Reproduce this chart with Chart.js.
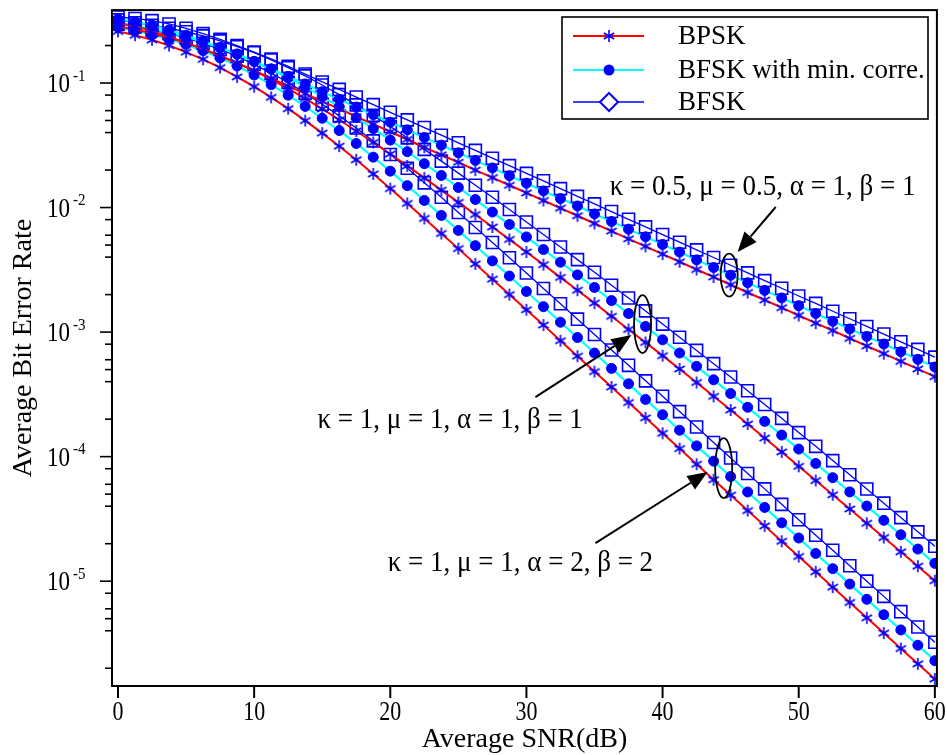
<!DOCTYPE html>
<html>
<head>
<meta charset="utf-8">
<script src="https://cdn.jsdelivr.net/npm/chart.js@4.4.0/dist/chart.umd.min.js"></script>
<style>
  html, body { margin: 0; padding: 0; background: #fff; }
  #wrap { width: 947px; height: 755px; position: relative; }
</style>
</head>
<body>
<div id="wrap"><canvas id="berChart"></canvas></div>
<script>
// average SNR in dB, one marker every 1.25 dB
const snr = [0, 1.25, 2.5, 3.75, 5, 6.25, 7.5, 8.75, 10, 11.25, 12.5, 13.75, 15, 16.25, 17.5, 18.75,
  20, 21.25, 22.5, 23.75, 25, 26.25, 27.5, 28.75, 30, 31.25, 32.5, 33.75, 35, 36.25, 37.5, 38.75,
  40, 41.25, 42.5, 43.75, 45, 46.25, 47.5, 48.75, 50, 51.25, 52.5, 53.75, 55, 56.25, 57.5, 58.75, 60];

// kappa = 0.5, mu = 0.5, alpha = 1, beta = 1
const bpsk1 = [0.306, 0.285, 0.261, 0.235, 0.210, 0.187, 0.165, 0.144, 0.126, 0.109, 0.0946, 0.0822, 0.0713,
  0.0619, 0.0537, 0.0467, 0.0406, 0.0352, 0.0305, 0.0265, 0.0231, 0.0200, 0.0174, 0.0151, 0.0131, 0.0114,
  0.00989, 0.00859, 0.00745, 0.00647, 0.00561, 0.00488, 0.00423, 0.00367, 0.00318, 0.00277, 0.00240, 0.00208,
  0.00181, 0.00157, 0.00136, 0.00118, 0.00103, 0.000891, 0.000773, 0.000671, 0.000582, 0.000506, 0.000439];
const fskMin1 = [0.327, 0.311, 0.291, 0.267, 0.242, 0.216, 0.193, 0.171, 0.149, 0.130, 0.113, 0.0982, 0.0851,
  0.0740, 0.0641, 0.0557, 0.0484, 0.0421, 0.0365, 0.0317, 0.0275, 0.0239, 0.0208, 0.0180, 0.0157, 0.0136,
  0.0118, 0.0103, 0.00889, 0.00773, 0.00670, 0.00582, 0.00505, 0.00439, 0.00380, 0.00330, 0.00286, 0.00249,
  0.00216, 0.00188, 0.00163, 0.00141, 0.00122, 0.00106, 0.000923, 0.000802, 0.000695, 0.000604, 0.000524];
const fsk1 = [0.339, 0.330, 0.317, 0.298, 0.275, 0.249, 0.224, 0.200, 0.177, 0.156, 0.136, 0.118, 0.102,
  0.0889, 0.0771, 0.0670, 0.0582, 0.0506, 0.0439, 0.0381, 0.0331, 0.0288, 0.0249, 0.0217, 0.0188, 0.0164,
  0.0142, 0.0123, 0.0107, 0.00929, 0.00805, 0.00700, 0.00607, 0.00527, 0.00457, 0.00397, 0.00344, 0.00299,
  0.00259, 0.00225, 0.00195, 0.00170, 0.00147, 0.00128, 0.00111, 0.000964, 0.000836, 0.000726, 0.000630];

// kappa = 1, mu = 1, alpha = 1, beta = 1
const bpsk2 = [0.285, 0.269, 0.251, 0.231, 0.210, 0.188, 0.166, 0.145, 0.125, 0.107, 0.0900, 0.0750, 0.0619,
  0.0507, 0.0412, 0.0333, 0.0269, 0.0216, 0.0173, 0.0138, 0.0110, 0.00879, 0.00698, 0.00555, 0.00440, 0.00348,
  0.00275, 0.00217, 0.00171, 0.00134, 0.00105, 0.000826, 0.000647, 0.000506, 0.000394, 0.000305, 0.000237,
  0.000183, 0.000141, 0.000109, 8.36e-5, 6.43e-5, 4.94e-5, 3.80e-5, 2.92e-5, 2.24e-5, 1.72e-5, 1.32e-5, 1.01e-5];
const fskMin2 = [0.303, 0.288, 0.272, 0.255, 0.235, 0.214, 0.192, 0.170, 0.149, 0.129, 0.110, 0.0931, 0.0778,
  0.0644, 0.0527, 0.0430, 0.0348, 0.0281, 0.0225, 0.0181, 0.0145, 0.0116, 0.00920, 0.00731, 0.00581, 0.00460,
  0.00364, 0.00288, 0.00228, 0.00179, 0.00141, 0.00111, 0.000867, 0.000679, 0.000531, 0.000414, 0.000321,
  0.000249, 0.000192, 0.000149, 0.000115, 8.81e-5, 6.78e-5, 5.21e-5, 4.01e-5, 3.08e-5, 2.36e-5, 1.81e-5, 1.39e-5];
const fsk2 = [0.321, 0.305, 0.291, 0.275, 0.258, 0.239, 0.218, 0.196, 0.175, 0.153, 0.133, 0.114, 0.0964,
  0.0807, 0.0668, 0.0550, 0.0448, 0.0363, 0.0293, 0.0236, 0.0189, 0.0151, 0.0121, 0.00964, 0.00766, 0.00608,
  0.00482, 0.00382, 0.00302, 0.00238, 0.00188, 0.00148, 0.00116, 0.000910, 0.000713, 0.000558, 0.000436,
  0.000338, 0.000262, 0.000203, 0.000156, 0.000121, 9.29e-5, 7.15e-5, 5.50e-5, 4.23e-5, 3.24e-5, 2.49e-5, 1.91e-5];

// kappa = 1, mu = 1, alpha = 2, beta = 2
const bpsk3 = [0.260, 0.242, 0.222, 0.200, 0.177, 0.155, 0.133, 0.112, 0.0935, 0.0767, 0.0622, 0.0499, 0.0396,
  0.0311, 0.0242, 0.0186, 0.0142, 0.0108, 0.00818, 0.00619, 0.00468, 0.00353, 0.00266, 0.00200, 0.00151, 0.00114,
  0.000853, 0.000641, 0.000482, 0.000362, 0.000272, 0.000205, 0.000154, 0.000116, 8.69e-5, 6.53e-5, 4.91e-5,
  3.69e-5, 2.78e-5, 2.09e-5, 1.58e-5, 1.19e-5, 8.95e-6, 6.75e-6, 5.08e-6, 3.83e-6, 2.88e-6, 2.17e-6, 1.64e-6];
const fskMin3 = [0.279, 0.263, 0.245, 0.226, 0.204, 0.182, 0.159, 0.137, 0.116, 0.0971, 0.0798, 0.0649, 0.0521,
  0.0415, 0.0327, 0.0254, 0.0196, 0.0150, 0.0114, 0.00865, 0.00655, 0.00494, 0.00373, 0.00282, 0.00212, 0.00160,
  0.00120, 0.000904, 0.000679, 0.000511, 0.000384, 0.000288, 0.000217, 0.000163, 0.000122, 9.20e-5, 6.92e-5,
  5.20e-5, 3.91e-5, 2.94e-5, 2.22e-5, 1.67e-5, 1.26e-5, 9.48e-6, 7.15e-6, 5.38e-6, 4.06e-6, 3.06e-6, 2.30e-6];
const fsk3 = [0.297, 0.282, 0.266, 0.249, 0.230, 0.208, 0.186, 0.164, 0.141, 0.120, 0.101, 0.0830, 0.0676,
  0.0545, 0.0435, 0.0343, 0.0267, 0.0207, 0.0158, 0.0121, 0.00914, 0.00692, 0.00524, 0.00395, 0.00298, 0.00224,
  0.00169, 0.00127, 0.000957, 0.000719, 0.000541, 0.000406, 0.000305, 0.000230, 0.000173, 0.000130, 9.75e-5,
  7.33e-5, 5.51e-5, 4.14e-5, 3.11e-5, 2.34e-5, 1.77e-5, 1.33e-5, 1.00e-5, 7.55e-6, 5.69e-6, 4.29e-6, 3.23e-6];

const xTicks = [0, 10, 20, 30, 40, 50, 60];
const yTicks = [1e-1, 1e-2, 1e-3, 1e-4, 1e-5];
const yTickExp = ['-1', '-2', '-3', '-4', '-5'];
const yMinor = [2, 4, 5, 6, 8];

// annotations, in data units
const notes = [
  { text: 'κ = 0.5, μ = 0.5, α = 1, β = 1', x: 47.35, y: 0.0146 },
  { text: 'κ = 1, μ = 1, α = 1, β = 1', x: 24.4, y: 1.96e-4 },
  { text: 'κ = 1, μ = 1, α = 2, β = 2', x: 29.56, y: 1.40e-5 }
];
const rings = [
  { x: 44.89, y: 2.87e-3, rx: 8.5, ry: 21.5 },
  { x: 38.53, y: 1.16e-3, rx: 8.5, ry: 29 },
  { x: 44.49, y: 8.09e-5, rx: 8.5, ry: 30 }
];
const arrows = [
  { x1: 48.31, y1: 1.01e-2, x2: 45.51, y2: 4.40e-3 },
  { x1: 30.66, y1: 3.01e-4, x2: 37.72, y2: 9.46e-4 },
  { x1: 35.07, y1: 2.02e-5, x2: 43.31, y2: 7.52e-5 }
];

const SERIF = '"Liberation Serif", "Times New Roman", serif';
const BLUE = '#0000ff';

function makeStar(size) {
  const c = document.createElement('canvas');
  c.width = c.height = size;
  const g = c.getContext('2d');
  g.strokeStyle = BLUE;
  g.lineWidth = 1.6;
  const m = size / 2, r = size / 2 - 1;
  for (const deg of [90, 30, 150]) {
    const t = deg * Math.PI / 180;
    g.beginPath();
    g.moveTo(m - r * Math.cos(t), m - r * Math.sin(t));
    g.lineTo(m + r * Math.cos(t), m + r * Math.sin(t));
    g.stroke();
  }
  return c;
}
const star = makeStar(14);

function pts(arr) {
  return snr.map((s, i) => ({ x: s, y: arr[i] }));
}

function fskSet(arr) {
  return { data: pts(arr), borderColor: BLUE, borderWidth: 1.3, pointStyle: 'rect', pointRadius: 8.5,
    pointBorderColor: BLUE, pointBackgroundColor: 'rgba(255,255,255,0)', pointBorderWidth: 1.6 };
}
function minSet(arr) {
  return { data: pts(arr), borderColor: '#00ffff', borderWidth: 2.2, pointStyle: 'circle', pointRadius: 5,
    pointBorderColor: BLUE, pointBackgroundColor: BLUE, pointBorderWidth: 1 };
}
function bpskSet(arr) {
  return { data: pts(arr), borderColor: '#ff0000', borderWidth: 2, pointStyle: star, pointRadius: 7 };
}

function text(ctx, str, x, y, font, align, sy) {
  ctx.save();
  ctx.translate(x, y);
  ctx.scale(1, sy || 1);
  ctx.font = font;
  ctx.textAlign = align;
  ctx.textBaseline = 'middle';
  ctx.fillText(str, 0, 0);
  ctx.restore();
}

function arrowTo(ctx, x1, y1, x2, y2) {
  const a = Math.atan2(y2 - y1, x2 - x1), len = 20, w = 8;
  const bx = x2 - len * Math.cos(a), by = y2 - len * Math.sin(a);
  ctx.beginPath();
  ctx.moveTo(x1, y1);
  ctx.lineTo(bx, by);
  ctx.stroke();
  ctx.beginPath();
  ctx.moveTo(x2, y2);
  ctx.lineTo(bx + w * Math.sin(a), by - w * Math.cos(a));
  ctx.lineTo(bx - w * Math.sin(a), by + w * Math.cos(a));
  ctx.closePath();
  ctx.fill();
}

const decor = {
  id: 'decor',
  afterDraw(chart) {
    const { ctx, chartArea: a, scales: { x, y } } = chart;
    ctx.save();
    ctx.fillStyle = '#000';
    ctx.strokeStyle = '#000';

    // annotations
    ctx.lineWidth = 1.8;
    rings.forEach(r => {
      ctx.beginPath();
      ctx.ellipse(x.getPixelForValue(r.x), y.getPixelForValue(r.y), r.rx, r.ry, 0, 0, Math.PI * 2);
      ctx.stroke();
    });
    ctx.lineWidth = 2;
    arrows.forEach(r => arrowTo(ctx, x.getPixelForValue(r.x1), y.getPixelForValue(r.y1),
      x.getPixelForValue(r.x2), y.getPixelForValue(r.y2)));
    notes.forEach(n => text(ctx, n.text, x.getPixelForValue(n.x), y.getPixelForValue(n.y),
      '27px ' + SERIF, 'center', 1.1));

    // frame
    ctx.lineWidth = 2;
    ctx.strokeRect(a.left, a.top, a.right - a.left, a.bottom - a.top);

    // x ticks
    xTicks.forEach(v => {
      const px = x.getPixelForValue(v);
      ctx.beginPath();
      ctx.moveTo(px, a.bottom);
      ctx.lineTo(px, a.bottom + 12);
      ctx.stroke();
      text(ctx, String(v), px, a.bottom + 27, '22px ' + SERIF, 'center', 1.2);
    });
    text(ctx, 'Average SNR(dB)', (a.left + a.right) / 2, 740, '28px ' + SERIF, 'center');

    // y ticks
    ctx.lineWidth = 1.6;
    yTicks.forEach((v, i) => {
      const py = y.getPixelForValue(v);
      ctx.beginPath();
      ctx.moveTo(a.left - 12, py);
      ctx.lineTo(a.left, py);
      ctx.stroke();
      text(ctx, '10', 70, py + 2, '23px ' + SERIF, 'right', 1.15);
      text(ctx, yTickExp[i], 73, py - 7, '15px ' + SERIF, 'left', 1.15);
    });
    for (let e = -6; e <= -1; e++) {
      yMinor.forEach(m => {
        const v = m * Math.pow(10, e);
        if (v < y.min || v > y.max) return;
        const py = y.getPixelForValue(v);
        ctx.beginPath();
        ctx.moveTo(a.left - 7, py);
        ctx.lineTo(a.left, py);
        ctx.stroke();
      });
    }
    ctx.save();
    ctx.translate(24, (a.top + a.bottom) / 2);
    ctx.rotate(-Math.PI / 2);
    text(ctx, 'Average Bit Error Rate', 0, 0, '28px ' + SERIF, 'center');
    ctx.restore();

    // legend
    ctx.fillStyle = '#fff';
    ctx.fillRect(562, 17, 366, 102);
    ctx.lineWidth = 1.6;
    ctx.strokeRect(562, 17, 366, 102);
    const rows = [
      { label: 'BPSK', color: '#ff0000', w: 2, y: 36 },
      { label: 'BFSK with min. corre.', color: '#00ffff', w: 2.2, y: 70 },
      { label: 'BFSK', color: BLUE, w: 1.6, y: 102 }
    ];
    rows.forEach((r, i) => {
      ctx.strokeStyle = r.color;
      ctx.lineWidth = r.w;
      ctx.beginPath();
      ctx.moveTo(573, r.y);
      ctx.lineTo(644, r.y);
      ctx.stroke();
      if (i === 0) {
        ctx.drawImage(star, 609 - 7, r.y - 7);
      } else if (i === 1) {
        ctx.fillStyle = BLUE;
        ctx.beginPath();
        ctx.arc(609, r.y, 5.5, 0, Math.PI * 2);
        ctx.fill();
      } else {
        ctx.strokeStyle = BLUE;
        ctx.lineWidth = 2;
        ctx.fillStyle = '#fff';
        ctx.beginPath();
        ctx.moveTo(609, r.y - 9);
        ctx.lineTo(618, r.y);
        ctx.lineTo(609, r.y + 9);
        ctx.lineTo(600, r.y);
        ctx.closePath();
        ctx.fill();
        ctx.stroke();
      }
      ctx.fillStyle = '#000';
      text(ctx, r.label, 678, r.y + 1, '27px ' + SERIF, 'left');
    });
    ctx.restore();
  }
};

new Chart(document.getElementById('berChart'), {
  type: 'line',
  data: {
    datasets: [
      fskSet(fsk1), minSet(fskMin1), bpskSet(bpsk1),
      fskSet(fsk2), minSet(fskMin2), bpskSet(bpsk2),
      fskSet(fsk3), minSet(fskMin3), bpskSet(bpsk3)
    ]
  },
  options: {
    responsive: true,
    maintainAspectRatio: false,
    animation: false,
    layout: { padding: { left: 112, right: 10, top: 10, bottom: 69 } },
    elements: { line: { tension: 0, fill: false } },
    scales: {
      x: { type: 'linear', min: -0.44, max: 60.15, display: false },
      y: { type: 'logarithmic', min: 1.44e-6, max: 0.385, display: false }
    },
    plugins: { legend: { display: false }, tooltip: { enabled: false } }
  },
  plugins: [decor]
});
</script>
</body>
</html>
